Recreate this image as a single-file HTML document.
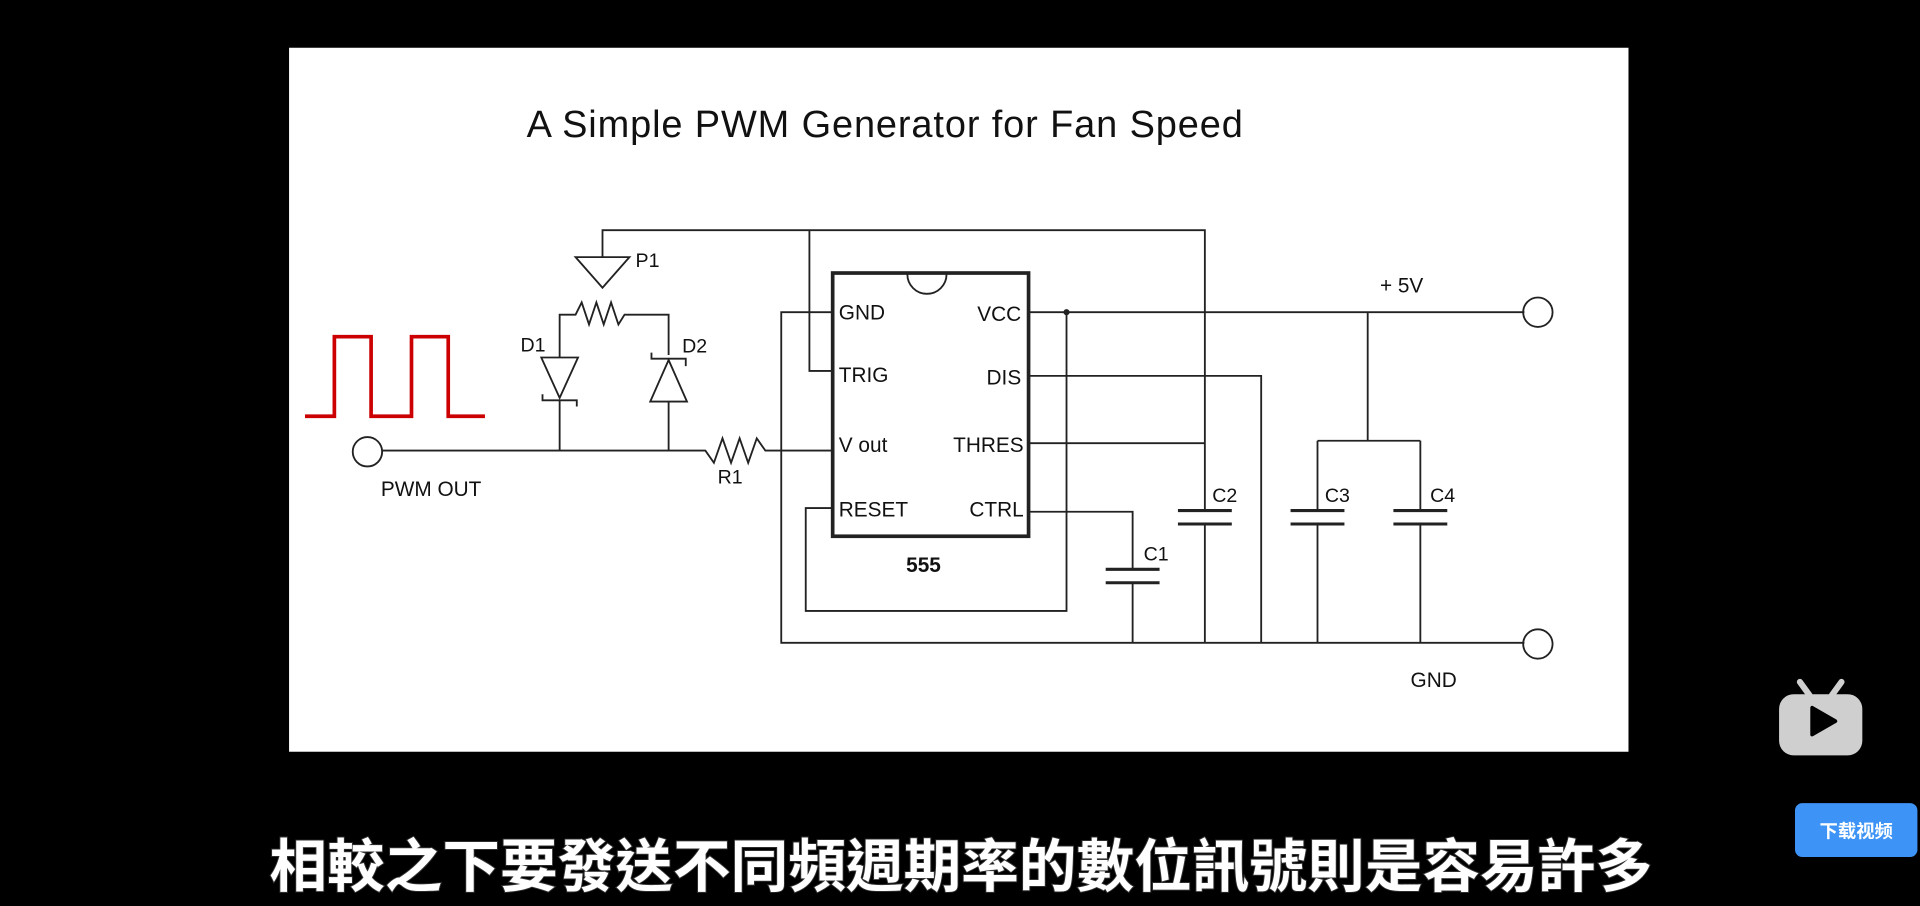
<!DOCTYPE html>
<html><head><meta charset="utf-8"><style>
html,body{margin:0;padding:0;background:#000;width:1920px;height:906px;overflow:hidden}
svg{display:block}
</style></head><body>
<svg width="1920" height="906" viewBox="0 0 1568 740" xmlns="http://www.w3.org/2000/svg">
<rect width="1568" height="740" fill="#000"/>
<rect x="236" y="39" width="1094" height="575" fill="#fff"/>
<text x="430" y="112" font-family="Liberation Sans, sans-serif" font-size="31" textLength="585" fill="#111">A Simple PWM Generator for Fan Speed</text>
<g stroke="#222" stroke-width="1.5" fill="none">
<rect x="680" y="223" width="160" height="215" stroke-width="3"/>
<path d="M741,224 A16,16 0 0 0 773,224" stroke-width="1.5"/>
<path d="M492,210 V188 H984 V417 M984,428 V525"/>
<path d="M661,188 V303 H680"/>
<path d="M680,255 H638 V525 H1245"/>
<path d="M840,255 H1245"/>
<path d="M871,255 V499 H658 V415 H680"/>
<path d="M840,307 H1030 V525"/>
<path d="M840,362 H984"/>
<path d="M840,418 H925 V465 M925,476 V525"/>
<path d="M1117,255 V360 M1076,360 H1160 M1076,360 V417 M1076,428 V525 M1160,360 V417 M1160,428 V525"/>
<path d="M903,465 H947 M903,476 H947" stroke-width="2.5"/>
<path d="M962,417 H1006 M962,428 H1006" stroke-width="2.5"/>
<path d="M1054,417 H1098 M1054,428 H1098" stroke-width="2.5"/>
<path d="M1138,417 H1182 M1138,428 H1182" stroke-width="2.5"/>
<path d="M680,368 H625 L618,358 L611,378 L604,358 L597,378 L590,358 L583,378 L576,368 H312"/>
<circle cx="300" cy="369" r="12"/>
<circle cx="1256" cy="255" r="12"/>
<circle cx="1256" cy="526" r="12"/>
<path d="M470,210 H514 L492,235 Z"/>
<path d="M457,292 V257 H470 L475,247 L481,265 L487,247 L493,265 L499,247 L505,265 L510,257 H546 V290"/>
<path d="M442,292 H472 L457,325 Z"/>
<path d="M443,322 V327 H471 V332"/>
<path d="M457,327 V368"/>
<path d="M546,294 L531,328 H561 Z"/>
<path d="M532,288 V293 H560 V299"/>
<path d="M546,328 V368"/>
</g>
<circle cx="871" cy="255" r="2.5" fill="#222"/>
<path d="M249,340 H273 V275 H303 V340 H336 V275 H366 V340 H396" stroke="#cc0000" stroke-width="3" fill="none"/>
<g font-family="Liberation Sans, sans-serif" font-size="17" fill="#111">
<text x="685" y="261">GND</text>
<text x="685" y="312">TRIG</text>
<text x="685" y="369">V out</text>
<text x="685" y="422">RESET</text>
<text x="834" y="262" text-anchor="end">VCC</text>
<text x="834" y="314" text-anchor="end">DIS</text>
<text x="836" y="369" text-anchor="end">THRES</text>
<text x="836" y="422" text-anchor="end">CTRL</text>
<text x="740" y="467" font-weight="bold">555</text>
<text x="311" y="405">PWM OUT</text>
<text x="1127" y="239">+ 5V</text>
<text x="1152" y="561">GND</text>
<text x="519" y="218" font-size="16">P1</text>
<text x="425" y="287" font-size="16">D1</text>
<text x="557" y="288" font-size="16">D2</text>
<text x="586" y="395" font-size="16">R1</text>
<text x="934" y="458" font-size="16">C1</text>
<text x="990" y="410" font-size="16">C2</text>
<text x="1082" y="410" font-size="16">C3</text>
<text x="1168" y="410" font-size="16">C4</text>
</g>
<text x="220" y="724" textLength="1130" font-family="Liberation Sans, Noto Sans CJK TC, sans-serif" font-size="47" font-weight="bold" fill="#fff" stroke="#333" stroke-width="1.5" paint-order="stroke">相較之下要發送不同頻週期率的數位訊號則是容易許多</text>
<g fill="#cfcfcf">
<rect x="1453" y="567" width="68" height="50" rx="12"/>
<path d="M1470,557 L1478,568 M1504,557 L1496,568" stroke="#cfcfcf" stroke-width="5" stroke-linecap="round"/>
</g>
<path d="M1480,578 V600 L1499,589 Z" fill="#000" stroke="#000" stroke-width="3" stroke-linejoin="round"/>
<rect x="1466" y="656" width="100" height="44" rx="6" fill="#3d94f6"/>
<text x="1516" y="684" text-anchor="middle" font-family="Liberation Sans, Noto Sans CJK SC, sans-serif" font-size="15" font-weight="bold" fill="#fff">下载视频</text>
</svg>
</body></html>
